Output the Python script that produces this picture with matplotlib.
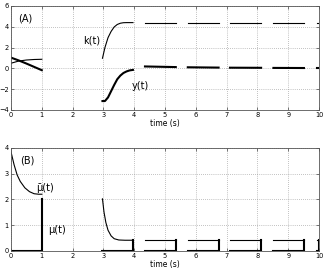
import matplotlib
matplotlib.use('Agg')
import matplotlib.pyplot as plt

# ---- panel A: first interval [0, 1]
tA0 = [0.0, 0.25, 0.5, 0.75, 1.0]
kA0 = [0.49, 0.70, 0.80, 0.85, 0.87]
yA0 = [1.03, 0.76, 0.46, 0.14, -0.18]

# ---- panel A: second interval [~3, ~4]
tA3 = [2.97, 3.05, 3.15, 3.25, 3.35, 3.45, 3.55, 3.65, 3.75, 3.85, 3.96]
kA3 = [0.97, 2.00, 2.95, 3.55, 3.98, 4.22, 4.34, 4.39, 4.40, 4.40, 4.40]
yA3 = [-3.15, -3.15, -2.80, -2.20, -1.60, -1.05, -0.70, -0.45, -0.30, -0.20, -0.15]

# ---- later intervals (piecewise constant)
seg_start = [4.35, 5.74, 7.11, 8.52, 9.92]
seg_end = [5.35, 6.74, 8.12, 9.51, 10.0]
k_seg = [4.40, 4.40, 4.40, 4.40, 4.40]
y_seg_start = [0.18, 0.10, 0.06, 0.04, 0.02]
y_seg_end = [0.12, 0.07, 0.05, 0.03, 0.02]

# ---- panel B
tB0 = [0.0, 0.1, 0.2, 0.3, 0.45, 0.6, 0.75, 0.9, 1.0]
mubar0 = [3.85, 3.35, 2.95, 2.70, 2.45, 2.30, 2.22, 2.20, 2.20]
mu_spike0 = 2.0
tB3 = [2.97, 3.02, 3.08, 3.15, 3.25, 3.35, 3.50, 3.70, 3.96]
mubar3 = [2.02, 1.50, 1.10, 0.80, 0.58, 0.47, 0.42, 0.41, 0.41]
mu_spike3 = 0.41
mubar_seg = [0.41, 0.41, 0.41, 0.41, 0.41]
mu_spike_seg = [0.41, 0.41, 0.41, 0.41, 0.41]

thin = 0.8
thick = 1.5
col = 'black'

fig = plt.figure(figsize=(3.27, 2.72), dpi=100)
axA = fig.add_axes([0.0336, 0.596, 0.942, 0.382])
axB = fig.add_axes([0.0336, 0.078, 0.942, 0.378])

# panel A
axA.plot(tA0, kA0, color=col, lw=thin)
axA.plot(tA0, yA0, color=col, lw=thick)
axA.plot(tA3, kA3, color=col, lw=thin)
axA.plot(tA3, yA3, color=col, lw=thick)
for s, e, k, y0, y1 in zip(seg_start, seg_end, k_seg, y_seg_start, y_seg_end):
    axA.plot([s, e], [k, k], color=col, lw=thin)
    axA.plot([s, e], [y0, y1], color=col, lw=thick)

axA.text(0.24, 4.8, '(A)', fontsize=7, ha='left', va='center')
axA.text(2.34, 2.7, 'k(t)', fontsize=7, ha='left', va='center')
axA.text(3.92, -1.7, 'y(t)', fontsize=7, ha='left', va='center')
axA.set_ylim(-4, 6)
axA.set_yticks([-4, -2, 0, 2, 4, 6])

# panel B
axB.plot(tB0, mubar0, color=col, lw=thin)
axB.plot([tB0[0], tB0[-1], tB0[-1]], [0, 0, mu_spike0], color=col, lw=thick)
axB.plot(tB3, mubar3, color=col, lw=thin)
axB.plot([tB3[0], tB3[-1], tB3[-1]], [0, 0, mu_spike3], color=col, lw=thick)
for s, e, mb, sp in zip(seg_start, seg_end, mubar_seg, mu_spike_seg):
    axB.plot([s, e], [mb, mb], color=col, lw=thin)
    axB.plot([s, e, e], [0, 0, sp], color=col, lw=thick)

axB.text(0.29, 3.5, '(B)', fontsize=7, ha='left', va='center')
axB.text(0.83, 2.45, 'μ\u0304(t)', fontsize=7, ha='left', va='center')
axB.text(1.19, 0.82, 'μ(t)', fontsize=7, ha='left', va='center')
axB.set_ylim(0, 4)
axB.set_yticks([0, 1, 2, 3, 4])

for ax in (axA, axB):
    ax.set_xlim(0, 10)
    ax.set_xticks(range(0, 11))
    ax.grid(True, linestyle=(0, (1, 2)), color='#888888', lw=0.5)
    ax.tick_params(direction='in', length=2.5, width=0.5, labelsize=4.8, pad=1.5,
                   top=True, right=True, colors='#444444', labelcolor='black')
    for sp in ax.spines.values():
        sp.set_color('#555555')
        sp.set_linewidth(0.6)
    ax.set_xlabel('time (s)', fontsize=5.5, labelpad=1)

fig.savefig('out.png', dpi=100)
